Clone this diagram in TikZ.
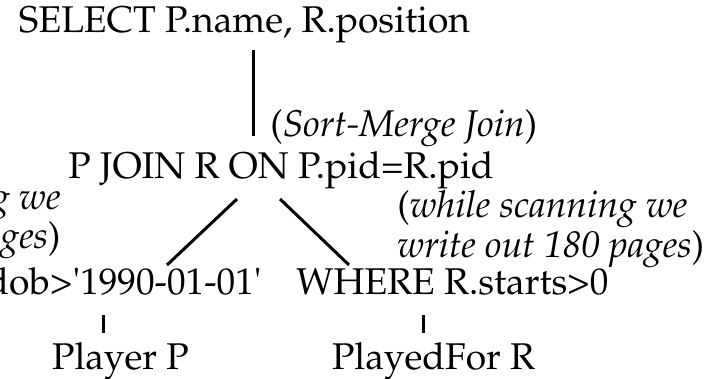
\documentclass[tikz,border=0pt]{standalone}
\usepackage[T1]{fontenc}
\usepackage{mathpazo}
\usepackage{tikz}

\begin{document}
\begin{tikzpicture}[x=0.5pt, y=-0.5pt,
    op/.style={inner sep=0pt, font=\fontsize{18.6}{18.5}\selectfont},
    note/.style={op, align=left},
    edge/.style={line width=1.5pt}]

    \clip (0,0) rectangle (722,379);

    % Plan operators
    \node[op, anchor=base] (select) at (244.5,33) {SELECT P.name, R.position};
    \node[op, anchor=base] (join) at (281,179) {P JOIN R ON P.pid=R.pid};
    \node[op, anchor=base east] (selP) at (262,294) {dob>\textquotesingle1990-01-01\textquotesingle};
    \node[op, anchor=base] (selR) at (452.5,294) {WHERE R.starts>0};
    \node[op, anchor=base] (player) at (120.5,369) {Player P};
    \node[op, anchor=base] (playedfor) at (433.5,369) {PlayedFor R};

    % Notes (base is the last line)
    \node[note, anchor=base west] (sortnote) at (270,137) {(\textit{Sort-Merge Join})};
    \node[note, anchor=base east, align=right] (scanP) at (61,249) {\textit{g we}\\\textit{ges})};
    \node[note, anchor=base west] (scanR) at (397,257) {(\textit{while scanning we}\\\textit{write out 180 pages})};

    % Edges
    \draw[edge] ([shift={(8.5,17)}]select.base) -- ([shift={(-28,-43)}]join.base);
    \draw[edge] ([shift={(-44,20)}]join.base) -- ([shift={(-95,-29)}]selP.base east);
    \draw[edge] ([shift={(-1,20)}]join.base) -- ([shift={(-103.5,-29)}]selR.base);
    \draw[edge] ([shift={(-159,21)}]selP.base east) -- ([shift={(-17.5,-36)}]player.base);
    \draw[edge] ([shift={(-29.5,21)}]selR.base) -- ([shift={(-10.5,-36)}]playedfor.base);

\end{tikzpicture}
\end{document}
